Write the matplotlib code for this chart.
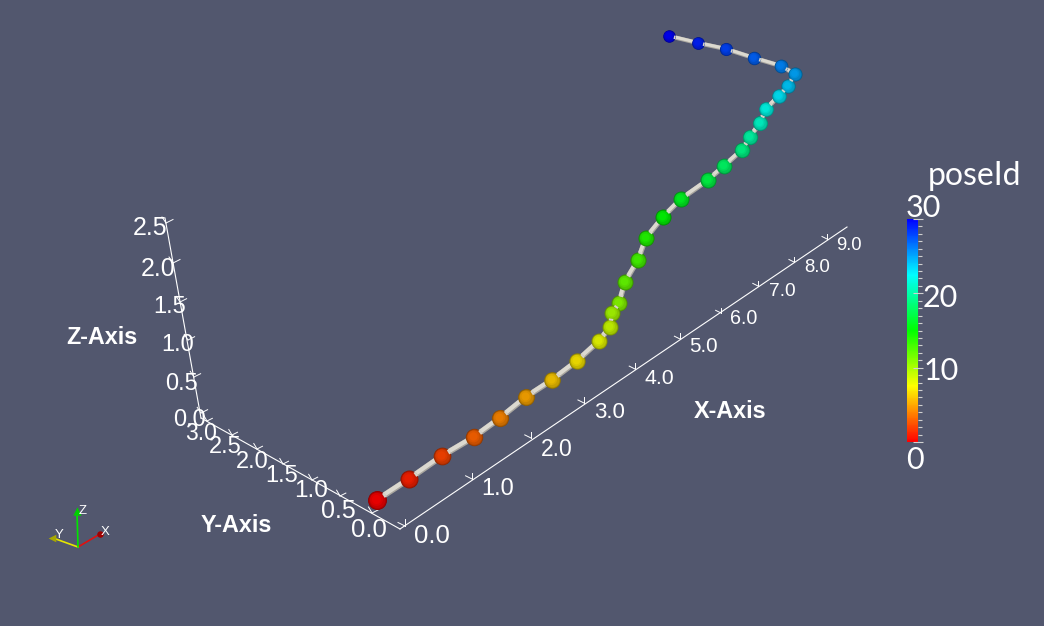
import matplotlib
matplotlib.use('Agg')
import matplotlib.pyplot as plt
import numpy as np
from matplotlib.cm import ScalarMappable
from matplotlib.collections import LineCollection
from matplotlib.colors import LinearSegmentedColormap, Normalize

# the chart is a 3D render, values are read as projected picture coordinates
pose_id = list(range(31))
pose_x = [377, 409, 442, 474, 500, 526, 552, 577, 599, 610, 612, 619, 625, 638, 646, 663,
          681, 708, 724, 742, 750, 760, 766, 779, 788, 795, 781, 754, 726, 698, 669]
pose_y = [500, 479, 456, 437, 418, 397, 380, 361, 341, 327, 313, 303, 282, 260, 238, 217,
          199, 180, 166, 150, 137, 123, 109, 96, 86, 74, 66, 58, 49, 43, 36]

x_labels = ['0.0', '1.0', '2.0', '3.0', '4.0', '5.0', '6.0', '7.0', '8.0', '9.0']
x_tick_x = [405, 472, 531, 584, 635, 680, 721, 758, 794, 827]
x_tick_y = [526, 479, 438, 403, 369, 339, 313, 286, 262, 239]
y_labels = ['3.0', '2.5', '2.0', '1.5', '1.0', '0.5', '0.0']
y_tick_x = [207, 232, 257, 283, 312, 340, 372]
y_tick_y = [421, 435, 449, 464, 480, 496, 513]
z_labels = ['0.0', '0.5', '1.0', '1.5', '2.0', '2.5']
z_tick_x = [201, 194, 188, 180, 173, 166]
z_tick_y = [413, 377, 340, 302, 263, 223]

bar_ticks = [0, 10, 20, 30]
rainbow = ['#ff0000', '#ffff00', '#00ff00', '#00ffff', '#0000ff']

BG = '#52576e'

# label placement and size, per tick
x_label_pos = [(432, 536), (498, 489), (557, 449), (610, 412), (659, 378),
               (703, 346), (744, 318), (782, 291), (817, 267), (849, 245)]
x_label_size = [18.5, 17, 16.5, 16, 15.3, 14.8, 14.2, 13.8, 13.4, 13.2]
y_label_pos = [(201, 433), (225, 447), (252, 462), (282, 476), (311, 491), (338, 511), (369, 530)]
y_label_size = [16.5, 17, 17, 17, 17.5, 18, 18.5]
z_label_pos = [(190, 420), (182, 384), (178, 345), (170, 307), (158, 269), (150, 228)]
z_label_size = [17, 17, 17, 17, 18, 18]

fig = plt.figure(figsize=(10.44, 6.26), dpi=100, facecolor=BG)
ax = fig.add_axes([0, 0, 1, 1])
ax.set_xlim(0, 1044)
ax.set_ylim(626, 0)
ax.axis('off')

cmap = LinearSegmentedColormap.from_list('rainbow', rainbow)
norm = Normalize(0, 30)


def draw_axis(tick_x, tick_y, start, end, labels, label_pos, label_size, strokes):
    ax.plot([start[0], end[0]], [start[1], end[1]], color='white', lw=0.8, zorder=1)
    for i in range(len(labels)):
        scale = label_size[i] / max(label_size)
        for dx, dy in strokes:
            ax.plot([tick_x[i], tick_x[i] + dx * scale], [tick_y[i], tick_y[i] + dy * scale],
                    color='white', lw=0.7, zorder=1)
        ax.text(label_pos[i][0], label_pos[i][1], labels[i], color='white', fontsize=label_size[i],
                family='Liberation Sans', ha='center', va='center', zorder=5)


draw_axis(x_tick_x, x_tick_y, (400, 529), (847, 227), x_labels, x_label_pos, x_label_size,
          [(-7, -3.5), (0, -7)])
draw_axis(y_tick_x, y_tick_y, (201, 418), (400, 529), y_labels, y_label_pos, y_label_size,
          [(-3.5, -6), (6, -3)])
draw_axis(z_tick_x, z_tick_y, (201, 418), (165, 218), z_labels, z_label_pos, z_label_size,
          [(7, -3.5), (-4, -6)])

for label, px, py in [('X-Axis', 730, 411), ('Y-Axis', 236, 525), ('Z-Axis', 102, 338)]:
    ax.text(px, py, label, color='white', fontsize=16.8, fontweight='bold',
            family='Liberation Sans', ha='center', va='center')

# tube through the poses
points = np.column_stack([pose_x, pose_y]).astype(float)
segs = np.stack([points[:-1], points[1:]], axis=1)
tube_w = np.interp(pose_id[:-1], [0, 30], [6.0, 4.2]) * 0.72
ax.add_collection(LineCollection(segs, colors='#a9a69f', linewidths=tube_w, capstyle='butt', zorder=2))
ax.add_collection(LineCollection(segs + [-0.4, -0.5], colors='#dcd9d0', linewidths=tube_w * 0.72,
                                 capstyle='butt', zorder=2))

# spheres, near ones on top
colors = cmap(norm(pose_id))[:, :3]
diam = np.interp(pose_id, [0, 1, 8, 17, 25, 30], [19, 18, 16, 16, 14, 12.5])
layers = [(1.0, 0, 0.55), (0.93, -0.2, 0.68), (0.82, -0.5, 0.78), (0.68, -0.8, 0.85), (0.48, -1.1, 0.9)]
for i in reversed(pose_id):
    z = 3 + (30 - i) * 0.01
    d = diam[i]
    for f, off, shade in layers:
        ax.scatter(pose_x[i] + off, pose_y[i] + off, s=(d * f * 0.72) ** 2, color=colors[i] * shade,
                   linewidths=0, zorder=z)
    # the tube shows over the sphere on its right side
    if i == 25:
        continue
    j = i + 1 if i < 25 else i - 1
    step = points[j] - points[i]
    step = step / np.hypot(step[0], step[1]) * d / 2
    ax.plot([points[i][0] + step[0] * 0.8, points[i][0] + step[0] * 1.05],
            [points[i][1] + step[1] * 0.8, points[i][1] + step[1] * 1.05],
            color='#d6d3ca', lw=tube_w[min(i, 29)] * 0.8, solid_capstyle='butt', zorder=z + 0.001)

# colour bar
cax = fig.add_axes([907 / 1044, 1 - 442 / 626, 11 / 1044, 223 / 626])
cb = fig.colorbar(ScalarMappable(norm=norm, cmap=cmap), cax=cax)
cb.outline.set_visible(False)
cax.set_yticks(bar_ticks)
cax.set_yticks(range(31), minor=True)
cax.tick_params(axis='y', which='major', direction='inout', length=6.5, width=0.8, color='#d0d0d0',
                labelright=False)
cax.tick_params(axis='y', which='minor', direction='out', length=2.9, width=0.8, color='#d0d0d0')

for label, px, py in zip(bar_ticks, [915, 941, 940, 923], [460, 371, 298, 208]):
    ax.text(px, py, str(label), color='white', fontsize=22, family='Lato', ha='center', va='center')
ax.text(975, 176, 'poseId', color='white', fontsize=23, family='Lato', ha='center', va='center')

# orientation marker
origin = (78, 547)
ax.plot([origin[0], 100], [origin[1], 534], color='#e01010', lw=1.2)
ax.plot([origin[0], 53], [origin[1], 538], color='#e6e600', lw=1.2)
ax.plot([origin[0], 77], [origin[1], 512], color='#00e600', lw=1.2)
ax.scatter([100], [534], s=22, color='#a00000', linewidths=0, zorder=3)
ax.scatter([52], [537.5], s=30, marker='<', color='#a8a800', linewidths=0, zorder=3)
ax.scatter([77], [511], s=36, marker='^', color='#00d000', linewidths=0, zorder=3)
for label, px, py in [('X', 105, 532), ('Y', 59, 535), ('Z', 83, 511)]:
    ax.text(px, py, label, color='white', fontsize=9.5, family='Liberation Sans', ha='center', va='center')

fig.savefig('out.png', dpi=100, facecolor=BG)
